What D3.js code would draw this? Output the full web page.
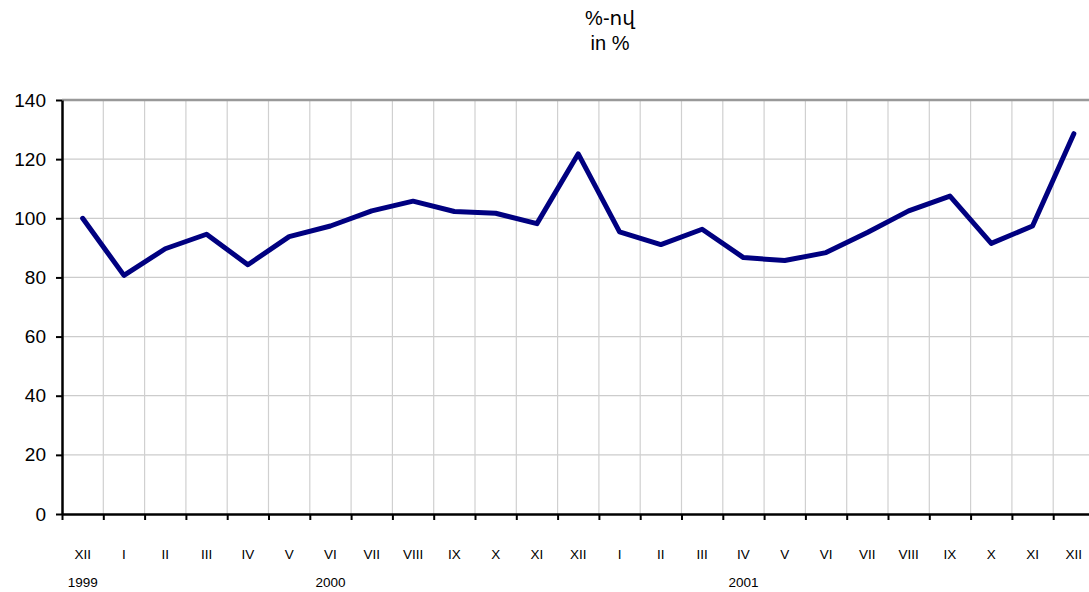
<!DOCTYPE html>
<html>
<head>
<meta charset="utf-8">
<script src="https://cdn.jsdelivr.net/npm/d3@7"></script>
<style>
  html, body { margin: 0; padding: 0; background: #fff; }
  svg { display: block; font-family: "Liberation Sans", Arial, "DejaVu Sans", sans-serif; }
</style>
</head>
<body>
<svg id="chart" width="1089" height="592"></svg>
<script>
// ---- Data ----
const titleLines = ["%-ով", "in %"];
const monthLabels = ["XII", "I", "II", "III", "IV", "V", "VI", "VII", "VIII", "IX", "X", "XI", "XII",
                     "I", "II", "III", "IV", "V", "VI", "VII", "VIII", "IX", "X", "XI", "XII"];
const yearLabels = ["1999", "2000", "2001"];
const yearAtIndex = [0, 6, 16];
const values = [100, 80.7, 89.7, 94.6, 84.3, 93.8, 97.4, 102.5, 105.8, 102.3, 101.7, 98.2, 121.8,
                95.4, 91.1, 96.3, 86.7, 85.7, 88.4, 95.2, 102.5, 107.5, 91.5, 97.4, 128.6];
const yTicks = [0, 20, 40, 60, 80, 100, 120, 140];

// ---- Layout ----
const plotLeft = 62, plotTop = 100, plotBottom = 514, bandW = 41.3;
const plotRight = plotLeft + bandW * monthLabels.length;

const svg = d3.select("#chart");

const x = d3.scaleBand().domain(d3.range(monthLabels.length)).range([plotLeft, plotRight]).padding(0);
const y = d3.scaleLinear().domain([0, 140]).range([plotBottom, plotTop]);
const cx = i => x(i) + x.bandwidth() / 2;

// Title
svg.append("g").selectAll("text").data(titleLines).join("text")
  .attr("x", 610).attr("y", (d, i) => 25 + i * 25)
  .attr("text-anchor", "middle").attr("font-size", 20).attr("fill", "#000")
  .text(d => d);

// Horizontal gridlines
svg.append("g").selectAll("line").data(yTicks.filter(t => t > 0 && t < 140)).join("line")
  .attr("x1", plotLeft).attr("x2", plotRight)
  .attr("y1", d => y(d)).attr("y2", d => y(d))
  .attr("stroke", "#cccccc").attr("stroke-width", 1.2);

// Vertical gridlines at band edges
svg.append("g").selectAll("line").data(d3.range(1, monthLabels.length + 1)).join("line")
  .attr("x1", i => plotLeft + i * x.step()).attr("x2", i => plotLeft + i * x.step())
  .attr("y1", plotTop).attr("y2", plotBottom)
  .attr("stroke", "#d0d0d0").attr("stroke-width", 1.2);

// Top border
svg.append("line").attr("x1", plotLeft).attr("x2", plotRight)
  .attr("y1", y(140)).attr("y2", y(140))
  .attr("stroke", "#999999").attr("stroke-width", 2.5);

// Left axis
const yAxis = svg.append("g").attr("transform", `translate(${plotLeft},0)`)
  .call(d3.axisLeft(y).tickValues(yTicks).tickSize(6).tickPadding(10).tickSizeOuter(0));
yAxis.select(".domain").attr("stroke", "#000").attr("stroke-width", 2.5);
yAxis.selectAll(".tick line").attr("stroke", "#000").attr("stroke-width", 2);
yAxis.selectAll(".tick text").attr("font-size", 19).attr("fill", "#000")
  .attr("font-family", "\"Liberation Sans\", Arial, sans-serif");

// Bottom axis with ticks at band edges
const xEdge = d3.scaleLinear().domain([0, monthLabels.length]).range([plotLeft, plotRight]);
const xAxis = svg.append("g").attr("transform", `translate(0,${plotBottom})`)
  .call(d3.axisBottom(xEdge).tickValues(d3.range(0, monthLabels.length + 1)).tickSize(6).tickSizeOuter(0).tickFormat(""));
xAxis.select(".domain").attr("stroke", "#000").attr("stroke-width", 2.5);
xAxis.selectAll(".tick line").attr("stroke", "#000").attr("stroke-width", 2);

// Month labels
svg.append("g").selectAll("text").data(monthLabels).join("text")
  .attr("x", (d, i) => cx(i)).attr("y", 559)
  .attr("text-anchor", "middle").attr("font-size", 13.5).attr("fill", "#000")
  .text(d => d);

// Year labels
svg.append("g").selectAll("text").data(yearLabels).join("text")
  .attr("x", (d, i) => cx(yearAtIndex[i])).attr("y", 587)
  .attr("text-anchor", "middle").attr("font-size", 13.5).attr("fill", "#000")
  .text(d => d);

// Line
svg.append("path").datum(values)
  .attr("fill", "none").attr("stroke", "#000080").attr("stroke-width", 5)
  .attr("stroke-linejoin", "round").attr("stroke-linecap", "round")
  .attr("d", d3.line().x((d, i) => cx(i)).y(d => y(d)));
</script>
</body>
</html>
